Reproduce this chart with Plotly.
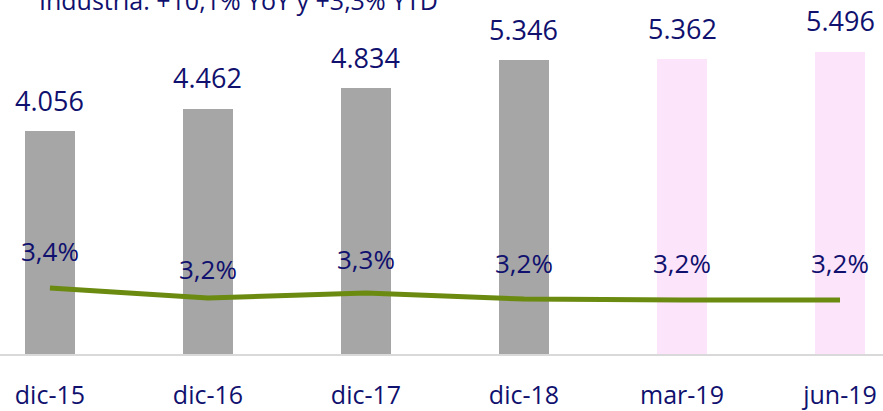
import plotly.graph_objects as go

categories = ["dic-15", "dic-16", "dic-17", "dic-18", "mar-19", "jun-19"]
bar_values = [4056, 4462, 4834, 5346, 5362, 5496]
share_values = [3.40, 3.20, 3.30, 3.18, 3.16, 3.16]
title_text = "Industria: +10,1% YoY y +3,3% YTD"

NAVY = "#10106E"
bar_colors = ["#A6A6A6"] * 4 + ["#FCE5FA"] * 2
share_label_shift = [37, 29, 34, 36, 37, 37]
FONT = "Open Sans"

fig = go.Figure()
fig.add_trace(go.Bar(
    x=categories, y=[v / 1000 for v in bar_values],
    marker=dict(color=bar_colors, line=dict(width=0)),
    width=0.316, showlegend=False, hoverinfo="skip",
))
fig.add_trace(go.Scatter(
    x=categories, y=share_values, yaxis="y2", mode="lines",
    line=dict(color="#6B8A10", width=5), showlegend=False, hoverinfo="skip",
))

annotations = []
for c, v in zip(categories, bar_values):
    annotations.append(dict(
        x=c, y=v / 1000, xref="x", yref="y", text=f"{v:,}".replace(",", "."),
        showarrow=False, yanchor="middle", yshift=31,
        font=dict(family=FONT, size=27, color=NAVY),
    ))
for c, v, s in zip(categories, share_values, share_label_shift):
    annotations.append(dict(
        x=c, y=v, xref="x", yref="y2", text=f"{v:.1f}".replace(".", ",") + "%",
        showarrow=False, yanchor="middle", yshift=s,
        font=dict(family=FONT, size=26, color=NAVY),
    ))
annotations.append(dict(
    x=37 / 883, y=1, xref="paper", yref="paper", text=title_text,
    showarrow=False, xanchor="left", yanchor="bottom", yshift=-19,
    font=dict(family=FONT, size=25, color=NAVY),
))

fig.update_layout(
    width=883, height=411,
    margin=dict(l=0, r=0, t=0, b=57, autoexpand=False),
    paper_bgcolor="white", plot_bgcolor="white",
    bargap=0,
    xaxis=dict(
        range=[-0.316, 5.272], showgrid=False, zeroline=False,
        showline=True, linecolor="#D9D9D9", linewidth=1.5,
        ticks="", ticklabelstandoff=18, automargin=False,
        tickfont=dict(family=FONT, size=25, color=NAVY),
    ),
    yaxis=dict(range=[0, 6.44], visible=False, showgrid=False, zeroline=False,
               automargin=False),
    yaxis2=dict(range=[2.08, 9.16], overlaying="y", side="right",
                visible=False, showgrid=False, zeroline=False, automargin=False),
    annotations=annotations,
)

fig.write_html(
    "out.html",
    config={"displayModeBar": False},
    post_script="document.body.style.margin='0';document.body.style.overflow='hidden';",
)
